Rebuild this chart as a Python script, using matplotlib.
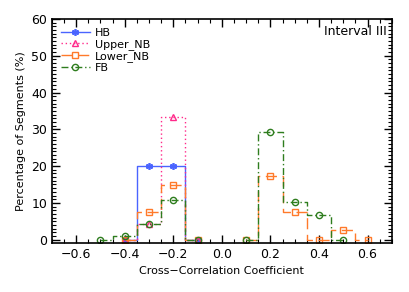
import numpy as np
import matplotlib.pyplot as plt
from matplotlib.ticker import MultipleLocator

# bin centres and percentages
hb_x = [-0.4, -0.3, -0.2, -0.1]
hb_y = [0.0, 20.0, 20.0, 0.0]

upper_x = [-0.4, -0.3, -0.2, -0.1]
upper_y = [0.0, 4.3, 33.3, 0.0]

lower_neg_x = [-0.4, -0.3, -0.2, -0.1]
lower_neg_y = [0.0, 7.4, 14.8, 0.0]
lower_pos_x = [0.1, 0.2, 0.3, 0.4, 0.5, 0.6]
lower_pos_y = [0.0, 17.2, 7.4, 0.0, 2.5, 0.0]

fb_neg_x = [-0.5, -0.4, -0.3, -0.2, -0.1]
fb_neg_y = [0.0, 1.0, 4.3, 10.9, 0.0]
fb_pos_x = [0.1, 0.2, 0.3, 0.4, 0.5]
fb_pos_y = [0.0, 29.3, 10.1, 6.7, 0.0]

c_hb = "#4a64ff"
c_up = "#ff2a8a"
c_lo = "#ff7a2a"
c_fb = "#2e7d1e"

plt.rcParams["font.family"] = "DejaVu Sans"
fig = plt.figure(figsize=(4.09, 2.92), dpi=100)
ax = fig.add_axes([0.127, 0.168, 0.831, 0.767])

ast = (6, 2, 0)
ax.plot(hb_x, hb_y, drawstyle="steps-mid", color=c_hb, lw=1.0, marker=ast,
        ms=5, mew=1.2, label="HB")
ax.plot(upper_x, upper_y, drawstyle="steps-mid", color=c_up, lw=1.0, ls=(0, (1, 2)),
        marker="^", ms=4.5, mfc="none", mew=1.0, label="Upper_NB")
for i, (xs, ys) in enumerate([(lower_neg_x, lower_neg_y), (lower_pos_x, lower_pos_y)]):
    ax.plot(xs, ys, drawstyle="steps-mid", color=c_lo, lw=1.0, ls=(0, (8, 4)),
            marker="s", ms=4.5, mfc="none", mew=1.0,
            label="Lower_NB" if i == 0 else None)
for i, (xs, ys) in enumerate([(fb_neg_x, fb_neg_y), (fb_pos_x, fb_pos_y)]):
    ax.plot(xs, ys, drawstyle="steps-mid", color=c_fb, lw=1.0, ls=(0, (5, 2, 1, 2)),
            marker="o", ms=4.5, mfc="none", mew=1.0,
            label="FB" if i == 0 else None)

ax.set_xlim(-0.7, 0.7)
ax.set_ylim(-0.9, 60)
ax.xaxis.set_major_locator(MultipleLocator(0.2))
ax.xaxis.set_minor_locator(MultipleLocator(0.05))
ax.yaxis.set_major_locator(MultipleLocator(10))
ax.yaxis.set_minor_locator(MultipleLocator(1))
ax.tick_params(which="both", direction="in", top=True, right=True, labelsize=9)
ax.tick_params(which="major", length=6, width=1)
ax.tick_params(which="minor", length=3, width=0.8)
ax.set_xticks([-0.6, -0.4, -0.2, 0.0, 0.2, 0.4, 0.6])
ax.set_xticklabels(["\u22120.6", "\u22120.4", "\u22120.2", "0.0", "0.2", "0.4", "0.6"])
for s in ax.spines.values():
    s.set_linewidth(1.2)

ax.set_xlabel("Cross\u2212Correlation Coefficient", fontsize=8)
ax.set_ylabel("Percentage of Segments (%)", fontsize=8)
ax.text(0.68, 56.5, "Interval III", ha="right", va="center", fontsize=9)

ax.legend(loc="upper left", fontsize=8, frameon=False, handlelength=2.6,
          borderaxespad=0.4, labelspacing=0.1, handletextpad=0.5)

fig.savefig("out.png", dpi=100)
